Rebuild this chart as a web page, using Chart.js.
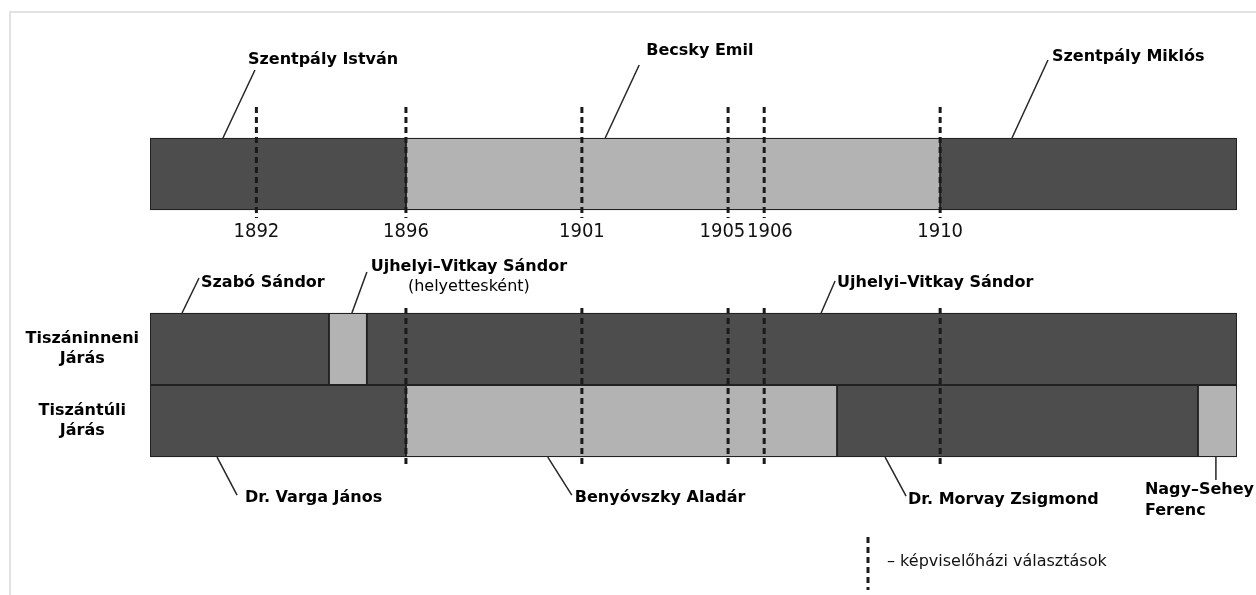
<!DOCTYPE html>
<html>
<head>
<meta charset="utf-8">
<script src="https://cdn.jsdelivr.net/npm/chart.js@4/dist/chart.umd.min.js"></script>
<style>
  html, body { margin: 0; padding: 0; background: #ffffff; }
  #wrap { position: relative; width: 1256px; height: 595px; overflow: hidden; background: #ffffff; }
  #wrap canvas { position: absolute; left: 0; top: 0; }
  #frame { position: absolute; left: 9px; top: 11px; width: 1400px; height: 800px;
           border-top: 2px solid #e2e2e2; border-left: 2px solid #e2e2e2; pointer-events: none; }
</style>
</head>
<body>
<div id="wrap">
  <canvas id="chart" width="1256" height="595"></canvas>
  <div id="frame"></div>
</div>
<script>
// ---------------- DATA ----------------
// rows of the timeline (top row = főispán, unlabeled in the picture)
const rowLabels = ['', ['Tiszáninneni', 'Járás'], ['Tiszántúli', 'Járás']];

// terms of office (fractional years)
const segRow   = [0, 0, 0, 1, 1, 1, 2, 2, 2, 2];
const segStart = [1889.2, 1896.08, 1910.44, 1889.2, 1894.01, 1895.03, 1889.2, 1896.08, 1907.67, 1917.37];
const segEnd   = [1896.08, 1910.44, 1918.42, 1894.01, 1895.03, 1918.42, 1896.08, 1907.67, 1917.37, 1918.42];
const segName  = ['Szentpály István', 'Becsky Emil', 'Szentpály Miklós',
                  'Szabó Sándor', 'Ujhelyi–Vitkay Sándor', 'Ujhelyi–Vitkay Sándor',
                  'Dr. Varga János', 'Benyóvszky Aladár', 'Dr. Morvay Zsigmond', 'Nagy–Sehey Ferenc'];
const segNote  = ['', '', '', '', '(helyettesként)', '', '', '', '', ''];

// parliamentary elections (képviselőházi választások)
const electionPos     = [1892.06, 1896.08, 1900.81, 1904.74, 1905.71, 1910.44];
const electionLabels  = ['1892', '1896', '1901', '1905', '1906', '1910'];
const electionInLower = [false, true, true, true, true, true];

const legendText = '– képviselőházi választások';

// ---------------- LAYOUT / STYLE ----------------
const ROW_Y = [0, 2.431, 3.431];          // row centres on the vertical axis (1 unit = bar height)
const Y_MIN = -2.4167, Y_MAX = 5.8472;
const BAR_PX = 72;
const DARK = '#4d4d4d', LIGHT = '#b3b3b3', EDGE = '#222222';
const TICK_NUDGE = [0, 0, 0, 2, -2, 0];   // spaces to pull close labels apart (+ trailing, - leading)
const DASH_TOP = { above: 0.43, below: 0.11 };
const DASH_LOW = { above: 0.07, below: 0.15 };
const NAME_LAYOUT = [
  { frac: 0.285, side: 'top',    lx: 32, ly: -68, tx: 25,  ty: -78 },
  { frac: 0.373, side: 'top',    lx: 34, ly: -73, tx: 41,  ty: -87 },
  { frac: 0.242, side: 'top',    lx: 36, ly: -78, tx: 40,  ty: -81 },
  { frac: 0.179, side: 'top',    lx: 17, ly: -35, tx: 19,  ty: -30 },
  { frac: 0.605, side: 'top',    lx: 15, ly: -41, tx: 117, ty: -46, align: 'center' },
  { frac: 0.522, side: 'top',    lx: 14, ly: -32, tx: 16,  ty: -30 },
  { frac: 0.262, side: 'bottom', lx: 20, ly: 38,  tx: 28,  ty: 41 },
  { frac: 0.329, side: 'bottom', lx: 24, ly: 38,  tx: 27,  ty: 41 },
  { frac: 0.133, side: 'bottom', lx: 21, ly: 39,  tx: 23,  ty: 43 },
  { frac: 0.46,  side: 'bottom', lx: 0,  ly: 23,  tx: -71, ty: 33, wrap: true }
];
const LEGEND = { x: 868, y1: 537, y2: 590, tx: 887, ty: 562 };
const BOLD = 'bold 16px "DejaVu Sans"';
const NORMAL = '16px "DejaVu Sans"';

// ---------------- DATASETS ----------------
const segOrder = segRow.map((r, i) => segRow.slice(0, i).filter(q => q === r).length);

const barSets = segName.map((n, i) => ({
  type: 'bar',
  label: n,
  data: [{ x: [segStart[i], segEnd[i]], y: ROW_Y[segRow[i]] }],
  backgroundColor: segOrder[i] % 2 === 0 ? DARK : LIGHT,
  borderColor: EDGE,
  borderWidth: 1.3,
  borderSkipped: false,
  barThickness: BAR_PX,
  grouped: false,
  order: 2
}));

const dashStyle = {
  type: 'line', borderColor: '#1a1a1a', borderWidth: 3, borderDash: [6, 4],
  pointRadius: 0, fill: false, order: 0, tension: 0
};
const lineSets = [];
electionPos.forEach((e, i) => {
  lineSets.push(Object.assign({}, dashStyle, {
    label: electionLabels[i],
    data: [{ x: e, y: ROW_Y[0] - 0.5 - DASH_TOP.above }, { x: e, y: ROW_Y[0] + 0.5 + DASH_TOP.below }]
  }));
  if (electionInLower[i]) {
    lineSets.push(Object.assign({}, dashStyle, {
      label: electionLabels[i],
      data: [{ x: e, y: ROW_Y[1] - 0.5 - DASH_LOW.above }, { x: e, y: ROW_Y[2] + 0.5 + DASH_LOW.below }]
    }));
  }
});

// ---------------- PLUGINS ----------------
const namesPlugin = {
  id: 'names',
  afterDatasetsDraw(chart) {
    const ctx = chart.ctx;
    const xs = chart.scales.x;
    ctx.save();
    segName.forEach((name, i) => {
      const L = NAME_LAYOUT[i];
      const bar = chart.getDatasetMeta(i).data[0];
      const ax = xs.getPixelForValue(segStart[i] + L.frac * (segEnd[i] - segStart[i]));
      const ay = L.side === 'top' ? bar.y - bar.height / 2 : bar.y + bar.height / 2;
      ctx.strokeStyle = '#262626';
      ctx.lineWidth = 1.5;
      ctx.setLineDash([]);
      ctx.beginPath();
      ctx.moveTo(ax, ay);
      ctx.lineTo(ax + L.lx, ay + L.ly);
      ctx.stroke();
      ctx.fillStyle = '#000000';
      ctx.textAlign = L.align || 'left';
      ctx.textBaseline = 'middle';
      ctx.font = BOLD;
      let lines = [name];
      if (L.wrap) {
        const k = name.lastIndexOf(' ');
        lines = [name.slice(0, k), name.slice(k + 1)];
      }
      lines.forEach((t, j) => ctx.fillText(t, ax + L.tx, ay + L.ty + j * 21));
      if (segNote[i]) {
        ctx.font = NORMAL;
        ctx.fillText(segNote[i], ax + L.tx, ay + L.ty + 20);
      }
    });
    // legend
    ctx.strokeStyle = '#1a1a1a';
    ctx.lineWidth = 3;
    ctx.setLineDash([6, 4]);
    ctx.beginPath();
    ctx.moveTo(LEGEND.x, LEGEND.y1);
    ctx.lineTo(LEGEND.x, LEGEND.y2);
    ctx.stroke();
    ctx.setLineDash([]);
    ctx.font = NORMAL;
    ctx.textAlign = 'left';
    ctx.textBaseline = 'middle';
    ctx.fillStyle = '#111111';
    ctx.fillText(legendText, LEGEND.tx, LEGEND.ty);
    ctx.restore();
  }
};

function nudge(label, n) {
  if (n > 0) return label + ' '.repeat(n);
  if (n < 0) return ' '.repeat(-n) + label;
  return label;
}

// ---------------- CHART ----------------
new Chart(document.getElementById('chart'), {
  type: 'bar',
  data: { datasets: barSets.concat(lineSets) },
  options: {
    indexAxis: 'y',
    responsive: false,
    animation: false,
    devicePixelRatio: 1,
    events: [],
    layout: { padding: { left: 0, right: 19, top: 0, bottom: 0 } },
    plugins: { legend: { display: false }, tooltip: { enabled: false }, title: { display: false } },
    scales: {
      x: {
        type: 'linear',
        offset: false,
        min: Math.min(...segStart),
        max: Math.max(...segEnd),
        position: { y: ROW_Y[0] + 0.5 },
        grid: { display: false, drawTicks: false },
        border: { display: false },
        afterBuildTicks: s => { s.ticks = electionPos.map(v => ({ value: v })); },
        afterFit: s => { s.paddingLeft = 0; s.paddingRight = 0; },
        ticks: {
          autoSkip: false, maxRotation: 0, minRotation: 0, padding: 10,
          color: '#111111',
          font: { family: '"DejaVu Sans Condensed", "DejaVu Sans"', size: 20, lineHeight: 1.2 },
          callback: (v, i) => nudge(electionLabels[i], TICK_NUDGE[i])
        }
      },
      y: {
        type: 'linear',
        offset: false,
        reverse: true,
        min: Y_MIN,
        max: Y_MAX,
        position: 'left',
        grid: { display: false, drawTicks: false },
        border: { display: false },
        afterBuildTicks: s => { s.ticks = [1, 2].map(r => ({ value: ROW_Y[r] })); },
        afterFit: s => { s.width = 150; s.paddingTop = 0; s.paddingBottom = 0; },
        ticks: {
          crossAlign: 'center', padding: 11, color: '#000000',
          font: { family: '"DejaVu Sans"', size: 16, weight: 'bold', lineHeight: 1.25 },
          callback: v => rowLabels[ROW_Y.indexOf(v)]
        }
      }
    }
  },
  plugins: [namesPlugin]
});
</script>
</body>
</html>
